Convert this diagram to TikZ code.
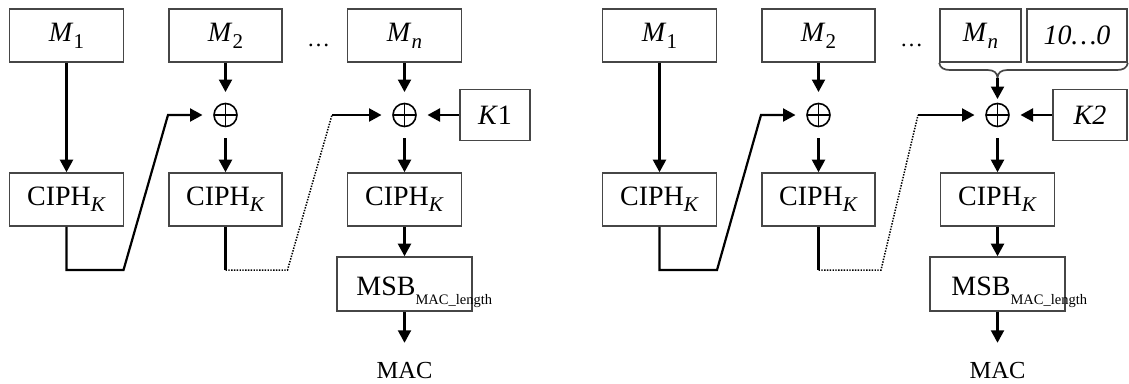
\documentclass[tikz,border=0pt]{standalone}
\usepackage{fontspec}
\setmainfont{Liberation Serif}
\usetikzlibrary{arrows.meta,calc}
\definecolor{framegray}{RGB}{70,70,70}
% lowered small text: #1 drop, #2 size, #3 content
\newcommand{\lowsub}[3]{\raisebox{-#1}{\fontsize{#2}{#2}\selectfont #3}}

\begin{document}
\begin{tikzpicture}[x=1pt,y=-1pt,
  blk/.style={draw=framegray, line width=1.6pt, inner sep=0pt, minimum height=53pt,
    font=\fontsize{28}{32}\selectfont},
  xor/.style={circle, draw, line width=1.6pt, minimum size=23pt, inner sep=0pt, outer sep=11.5pt,
    path picture={\draw[line width=1.6pt]
      (path picture bounding box.north) -- (path picture bounding box.south)
      (path picture bounding box.west) -- (path picture bounding box.east);}},
  conn/.style={line width=2.2pt},
  arr/.style={conn, -{Triangle[length=12.5pt,width=13pt]}},
  dotline/.style={line width=1.5pt, dash pattern=on 1.4pt off 1.4pt},
  brace/.style={draw=framegray, line width=1.7pt},
  txt/.style={inner sep=0pt},
  big/.style={font=\fontsize{28}{32}\selectfont},
]
\useasboundingbox (0,0) rectangle (1129,383);

% ---------- first chain (K1) ----------
\node[blk, minimum width=114pt] (m1) at (66.5,35.5) {\textit{M}\lowsub{7pt}{21}{1}};
\node[blk, minimum width=113pt] (m2) at (225.5,35.5) {\textit{M}\lowsub{7pt}{21}{2}};
\node[txt, font=\fontsize{23}{23}\selectfont] (dl) at (318.5,45) {…};
\node[blk, minimum width=114pt] (mn) at (404.5,35.5) {\textit{M}\lowsub{7pt}{21}{\textit{n}}};

\node[xor] (x1) at (225.5,115) {};
\node[xor] (x2) at (404.5,115) {};
\node[blk, minimum width=70pt, minimum height=51pt] (k1) at (495,115) {\textit{K}1};

\node[blk, minimum width=114pt] (c1) at (66.5,199.5) {CIPH\lowsub{6pt}{21}{\textit{K}}};
\node[blk, minimum width=113pt] (c2) at (225.5,199.5) {CIPH\lowsub{6pt}{21}{\textit{K}}};
\node[blk, minimum width=114pt] (c3) at (404.5,199.5) {CIPH\lowsub{6pt}{21}{\textit{K}}};

\node[blk, minimum width=135pt, minimum height=54pt] (s1) at (404.5,284) {};
\node[txt, big, anchor=base west] (s1t) at ($(s1.west)+(20,11)$) {MSB\lowsub{9pt}{14.5}{MAC\_length}};
\node[txt, outer ysep=20pt, font=\fontsize{24.5}{24.5}\selectfont] (mac1) at (404.5,371) {MAC};

\draw[arr] (m1) -- (c1);
\draw[arr] (m2) -- (x1);
\draw[arr] (x1) -- (c2);
\draw[arr] (mn) -- (x2);
\draw[arr] (x2) -- (c3);
\draw[arr] (k1) -- (x2);
\draw[arr] (c3) -- (s1);
\draw[arr] (s1) -- (mac1);

\coordinate (p1) at (123.5,270);
\coordinate (q1) at (168,115);
\draw[arr] (c1.south) |- (p1) -- (q1) -- (x1);

\coordinate (p2) at (287.5,270);
\coordinate (q2) at (332,115);
\draw[conn] (c2.south) -- (c2.south |- p2);
\draw[dotline] (c2.south |- p2) -- (p2) -- (q2);
\draw[arr] (q2) -- (x2);

% ---------- second chain (K2, padded last block) ----------
\node[blk, minimum width=114pt] (m1R) at (659.5,35.5) {\textit{M}\lowsub{7pt}{21}{1}};
\node[blk, minimum width=113pt] (m2R) at (818.5,35.5) {\textit{M}\lowsub{7pt}{21}{2}};
\node[txt, font=\fontsize{23}{23}\selectfont] (dr) at (911.5,45) {…};
\node[blk, minimum width=81pt] (mnR) at (980.5,35.5) {\textit{M}\lowsub{7pt}{21}{\textit{n}}};
\node[blk, minimum width=100pt] (padR) at (1077,35.5) {\textit{10…0}};

\coordinate (brtip) at (997.5,78);
\draw[brace] (mnR.south west) .. controls (940,68) and (944,70) .. (950,70)
  -- (987.5,70) .. controls (994,70) and (997.5,73) .. (brtip)
  .. controls (997.5,73) and (1001,70) .. (1007.5,70)
  -- (1117,70) .. controls (1123,70) and (1127,68) .. (padR.south east);

\node[xor] (x1R) at (818.5,115) {};
\node[xor] (x2R) at (997.5,115) {};
\node[blk, minimum width=74pt, minimum height=51pt] (k2) at (1090,115) {\textit{K2}};

\node[blk, minimum width=114pt] (c1R) at (659.5,199.5) {CIPH\lowsub{6pt}{21}{\textit{K}}};
\node[blk, minimum width=113pt] (c2R) at (818.5,199.5) {CIPH\lowsub{6pt}{21}{\textit{K}}};
\node[blk, minimum width=114pt] (c3R) at (997.5,199.5) {CIPH\lowsub{6pt}{21}{\textit{K}}};

\node[blk, minimum width=135pt, minimum height=54pt] (s2) at (997.5,284) {};
\node[txt, big, anchor=base west] (s2t) at ($(s2.west)+(22,11)$) {MSB\lowsub{9pt}{14.5}{MAC\_length}};
\node[txt, outer ysep=20pt, font=\fontsize{24.5}{24.5}\selectfont] (mac2) at (997.5,371) {MAC};

\draw[arr] (m1R) -- (c1R);
\draw[arr] (m2R) -- (x1R);
\draw[arr] (x1R) -- (c2R);
\draw[arr, shorten >=-7pt] (brtip) -- (x2R);
\draw[arr] (x2R) -- (c3R);
\draw[arr] (k2) -- (x2R);
\draw[arr] (c3R) -- (s2);
\draw[arr] (s2) -- (mac2);

\coordinate (p1R) at (717,270);
\coordinate (q1R) at (761,115);
\draw[arr] (c1R.south) |- (p1R) -- (q1R) -- (x1R);

\coordinate (p2R) at (881,270);
\coordinate (q2R) at (918,115);
\draw[conn] (c2R.south) -- (c2R.south |- p2R);
\draw[dotline] (c2R.south |- p2R) -- (p2R) -- (q2R);
\draw[arr] (q2R) -- (x2R);
\end{tikzpicture}
\end{document}
